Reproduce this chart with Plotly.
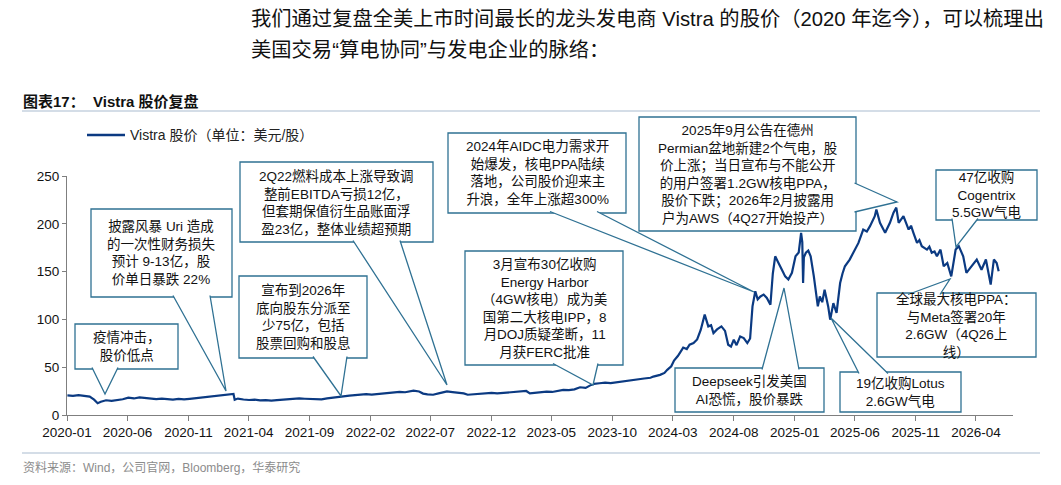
import plotly.graph_objects as go

# Vistra 股价（美元/股），按图读取的近似值
dates = [
    "2020-01-02", "2020-01-16", "2020-01-30", "2020-02-13", "2020-02-27", "2020-03-09", "2020-03-18",
    "2020-03-26", "2020-04-08", "2020-04-22", "2020-05-06", "2020-05-20", "2020-06-03", "2020-06-17",
    "2020-07-01", "2020-07-15", "2020-07-29", "2020-08-12", "2020-08-26", "2020-09-09", "2020-09-23",
    "2020-10-07", "2020-10-21", "2020-11-04", "2020-11-18", "2020-12-02", "2020-12-16", "2020-12-30",
    "2021-01-13", "2021-01-27", "2021-02-10", "2021-02-22", "2021-02-25", "2021-03-05", "2021-03-19",
    "2021-04-02", "2021-04-16", "2021-04-30", "2021-05-14", "2021-05-28", "2021-06-11", "2021-06-25",
    "2021-07-09", "2021-07-23", "2021-08-06", "2021-08-20", "2021-09-03", "2021-09-17", "2021-10-01",
    "2021-10-15", "2021-10-29", "2021-11-12", "2021-11-26", "2021-12-10", "2021-12-24",
    "2022-01-07", "2022-01-21", "2022-02-04", "2022-02-18", "2022-03-04", "2022-03-18", "2022-04-01",
    "2022-04-15", "2022-04-29", "2022-05-13", "2022-05-20", "2022-06-03", "2022-06-13", "2022-06-24",
    "2022-07-08", "2022-07-22", "2022-08-05", "2022-08-12", "2022-08-26", "2022-09-09", "2022-09-23",
    "2022-10-03", "2022-10-21", "2022-11-04", "2022-11-18", "2022-12-02", "2022-12-16", "2022-12-30",
    "2023-01-13", "2023-01-27", "2023-02-10", "2023-02-27", "2023-03-08", "2023-03-22", "2023-04-05",
    "2023-04-19", "2023-05-03", "2023-05-17", "2023-05-31", "2023-06-14", "2023-06-28", "2023-07-12",
    "2023-07-26", "2023-08-09", "2023-08-16", "2023-08-30", "2023-09-13", "2023-09-27", "2023-10-11",
    "2023-10-25", "2023-11-08", "2023-11-22", "2023-12-06", "2023-12-20",
    "2024-01-05", "2024-01-12", "2024-01-29", "2024-02-09", "2024-02-16", "2024-02-26", "2024-03-04",
    "2024-03-14", "2024-03-27", "2024-04-05", "2024-04-12", "2024-04-22", "2024-05-01", "2024-05-10",
    "2024-05-20", "2024-05-24", "2024-05-29", "2024-06-05", "2024-06-11", "2024-06-20", "2024-07-01",
    "2024-07-10", "2024-07-18", "2024-07-25", "2024-08-01", "2024-08-08", "2024-08-17", "2024-08-26",
    "2024-09-04", "2024-09-11", "2024-09-17", "2024-09-24", "2024-09-30", "2024-10-07", "2024-10-15",
    "2024-10-23", "2024-11-01", "2024-11-07", "2024-11-13", "2024-11-20", "2024-11-26", "2024-12-02",
    "2024-12-08", "2024-12-16", "2024-12-25",
    "2025-01-03", "2025-01-11", "2025-01-17", "2025-01-20", "2025-01-22", "2025-01-24", "2025-01-29",
    "2025-02-04", "2025-02-10", "2025-02-18", "2025-02-24", "2025-02-28", "2025-03-05", "2025-03-11",
    "2025-03-17", "2025-03-26", "2025-03-31", "2025-04-08", "2025-04-16", "2025-04-25", "2025-05-01",
    "2025-05-07", "2025-05-19", "2025-06-01", "2025-06-10", "2025-06-22", "2025-07-01", "2025-07-09",
    "2025-07-21", "2025-07-25", "2025-08-03", "2025-08-16", "2025-08-28", "2025-09-06", "2025-09-13",
    "2025-09-19", "2025-09-25", "2025-10-01", "2025-10-14", "2025-10-20", "2025-10-26", "2025-11-04",
    "2025-11-10", "2025-11-16", "2025-11-29", "2025-12-05", "2025-12-11", "2025-12-18", "2025-12-24",
    "2026-01-02", "2026-01-10", "2026-01-19", "2026-01-29", "2026-02-04", "2026-02-09", "2026-02-17",
    "2026-02-28", "2026-03-08", "2026-03-20", "2026-04-03", "2026-04-15", "2026-04-26", "2026-05-08",
    "2026-05-16", "2026-05-23", "2026-05-28",
]
prices = [
    20.5, 20.0, 20.8, 20.3, 19.2, 16.0, 12.3,
    13.8, 15.4, 14.8, 15.7, 16.5, 18.2, 17.3,
    18.5, 17.6, 17.0, 16.6, 17.2, 16.5, 16.0,
    16.8, 16.3, 16.9, 17.6, 18.5, 19.2, 19.6,
    20.2, 20.6, 21.3, 22.0, 16.0, 17.2, 16.2,
    15.7, 16.1, 15.3, 15.6, 15.0, 15.5, 16.0,
    16.5, 16.9, 17.3, 17.0, 16.7, 16.2, 16.3,
    17.4, 18.3, 19.0, 19.6, 20.2, 20.8,
    21.6, 21.8, 21.3, 21.9, 22.4, 22.8, 23.6,
    24.2, 23.8, 24.7, 25.4, 24.6, 22.4, 21.6,
    21.2, 22.6, 23.9, 24.6, 24.0, 23.5, 22.6,
    21.2, 21.8, 22.3, 22.8, 23.1, 22.6, 23.0,
    23.5, 24.1, 24.6, 25.1, 22.6, 23.2, 23.9,
    24.5, 24.1, 24.8, 26.2, 26.0, 26.8, 29.0,
    28.4, 31.5, 32.6, 33.2, 33.9, 33.4, 34.3,
    35.0, 35.6, 36.4, 37.2, 38.2,
    39.0, 40.2, 42.0, 44.0, 47.2, 51.0, 57.0,
    62.0, 70.5, 69.0, 73.5, 75.2, 79.0, 89.0,
    105.0, 99.0, 92.7, 94.0, 85.7, 89.5, 92.7,
    88.0, 73.5, 71.5, 78.7, 73.0, 82.2, 80.5,
    75.2, 80.0, 113.6, 129.4, 121.0, 124.0, 126.0,
    122.4, 115.4, 148.0, 166.0, 160.0, 155.6, 150.0,
    145.0, 141.7, 148.7,
    166.0, 170.0, 190.6, 181.0, 138.0, 165.0, 169.7,
    172.0, 166.0, 145.0, 128.0, 113.6, 124.0, 118.0,
    131.0, 113.6, 99.7, 117.0, 106.7, 138.0, 148.0,
    155.6, 162.6, 173.0, 180.0, 194.0, 192.0, 197.5,
    208.0, 215.0, 201.0, 190.6, 201.0, 211.7, 217.0,
    201.0, 205.0, 208.0, 194.0, 198.0, 190.6, 180.0,
    183.0, 176.6, 173.0, 176.0, 169.7, 171.0, 166.0,
    173.0, 155.6, 159.0, 145.0, 162.0, 173.0, 176.6,
    166.0, 148.7, 155.6, 162.6, 152.0, 162.6, 136.4,
    162.6, 159.0, 150.4,
]

tick_labels = ["2020-01", "2020-06", "2020-11", "2021-04", "2021-09", "2022-02", "2022-07", "2022-12",
               "2023-05", "2023-10", "2024-03", "2024-08", "2025-01", "2025-06", "2025-11", "2026-04"]
y_ticks = [0, 50, 100, 150, 200, 250]
series_name = "Vistra 股价（单位：美元/股）"

# 注释框：文字、框(x0, x1, y0, y1)、箭头底边两点、箭头尖 —— 屏幕像素位置
callouts = [
    ("疫情冲击，<br>股价低点", (75, 178, 324, 369), ((92, 369), (118, 369)), (105, 394)),
    ("披露风暴 Uri 造成<br>的一次性财务损失<br>预计 9-13亿，股<br>价单日暴跌 22%",
     (91, 232, 209, 297), ((173, 297), (210, 297)), (226, 391)),
    ("2Q22燃料成本上涨导致调<br>整前EBITDA亏损12亿，<br>但套期保值衍生品账面浮<br>盈23亿，整体业绩超预期",
     (240, 433, 162, 242), ((353, 242), (400, 242)), (447, 385)),
    ("宣布到2026年<br>底向股东分派至<br>少75亿，包括<br>股票回购和股息",
     (239, 367, 276, 358), ((313, 358), (347, 358)), (341, 396)),
    ("2024年AIDC电力需求开<br>始爆发，核电PPA陆续<br>落地，公司股价迎来主<br>升浪，全年上涨超300%",
     (448, 626, 133, 213), ((550, 213), (597, 213)), (754, 292)),
    ("2025年9月公告在德州<br>Permian盆地新建2个气电，股<br>价上涨；当日宣布与不能公开<br>的用户签署1.2GW核电PPA，<br>股价下跌；2026年2月披露用<br>户为AWS（4Q27开始投产）",
     (639, 856, 117, 231), ((856, 183), (856, 212)), (897, 202)),
    ("3月宣布30亿收购<br>Energy Harbor<br>（4GW核电）成为美<br>国第二大核电IPP，8<br>月DOJ质疑垄断，11<br>月获FERC批准",
     (465, 623, 251, 365), ((553, 365), (598, 365)), (593, 385)),
    ("Deepseek引发美国<br>AI恐慌，股价暴跌", (675, 824, 368, 412), ((762, 368), (799, 368)), (784, 288)),
    ("19亿收购Lotus<br>2.6GW气电", (840, 961, 372, 412), ((859, 372), (888, 372)), (831, 318)),
    ("47亿收购<br>Cogentrix<br>5.5GW气电", (936, 1037, 170, 220), ((952, 220), (978, 220)), (956, 247)),
    ("全球最大核电PPA：<br>与Meta签署20年<br>2.6GW（4Q26上<br>线）", (877, 1036, 293, 357), ((908, 293), (940, 293)), (950, 279)),
]

# 页面有 8px 的默认边距，图本身缩小 8px 使其正好落在窗口内
PAGE_OFF = 8
W, H = 1061 - PAGE_OFF, 485 - PAGE_OFF
PLOT_X0, PLOT_X1, PLOT_Y0, PLOT_Y1 = 67, 1013, 176, 415  # 屏幕坐标
ML, MT = PLOT_X0 - PAGE_OFF, PLOT_Y0 - PAGE_OFF
MR, MB = W - (PLOT_X1 - PAGE_OFF), H - (PLOT_Y1 - PAGE_OFF)
LATIN_CJK = "Liberation Sans, Arial, Noto Sans CJK SC, sans-serif"
BOX_COLOR = "#2F7193"
LINE_COLOR = "#0B3A82"


def px(x):
    return (x - PLOT_X0) / (PLOT_X1 - PLOT_X0)


def py(y):
    return (PLOT_Y1 - y) / (PLOT_Y1 - PLOT_Y0)


fig = go.Figure()
fig.add_trace(go.Scatter(
    x=dates, y=prices, mode="lines", name=series_name,
    line=dict(color=LINE_COLOR, width=2.2), showlegend=False,
))

shapes = []
annotations = []
for text, box, base, tip in callouts:
    x0, x1, y0, y1 = box
    shapes.append(dict(type="rect", xref="paper", yref="paper", layer="above",
                       x0=px(x0), x1=px(x1), y0=py(y1), y1=py(y0),
                       fillcolor="white", line=dict(color=BOX_COLOR, width=1.3)))
    (bx1, by1), (bx2, by2) = base
    # 把底边略微推进框内，盖住边框
    if by1 == y1:
        by1 = by2 = y1 - 1.5
    elif by1 == y0:
        by1 = by2 = y0 + 1.5
    else:
        bx1 = bx2 = x1 - 1.5
    path = "M {:.5f},{:.5f} L {:.5f},{:.5f} L {:.5f},{:.5f}".format(
        px(bx1), py(by1), px(tip[0]), py(tip[1]), px(bx2), py(by2))
    shapes.append(dict(type="path", xref="paper", yref="paper", layer="above", path=path,
                       fillcolor="white", line=dict(color=BOX_COLOR, width=1.3)))
    annotations.append(dict(text=text, xref="paper", yref="paper", showarrow=False,
                            x=px((x0 + x1) / 2), y=py((y0 + y1) / 2),
                            xanchor="center", yanchor="middle", align="center",
                            font=dict(size=13.5, color="#111111", family=LATIN_CJK)))

# 页面文字、图例和分隔线
para_font = dict(size=20.3, color="#111111", family=LATIN_CJK)
page_text = [
    dict(text="我们通过复盘全美上市时间最长的龙头发电商 Vistra 的股价（2020 年迄今），可以梳理出",
         x=px(249), y=py(19), font=para_font),
    dict(text="美国交易“算电协同”与发电企业的脉络：", x=px(249), y=py(50), font=para_font),
    dict(text="<b>图表17：  Vistra 股价复盘</b>", x=px(21), y=py(101),
         font=dict(size=15, color="#111111", family=LATIN_CJK)),
    dict(text=series_name, x=px(128), y=py(135),
         font=dict(size=14, color="#222222", family=LATIN_CJK)),
    dict(text="资料来源：Wind，公司官网，Bloomberg，华泰研究", x=px(21), y=py(467),
         font=dict(size=12, color="#8C8C8C", family=LATIN_CJK)),
]
for a in page_text:
    a.update(xref="paper", yref="paper", showarrow=False, xanchor="left", yanchor="middle")
annotations += page_text

shapes.append(dict(type="line", xref="paper", yref="paper", x0=px(87), x1=px(125),
                   y0=py(135), y1=py(135), line=dict(color=LINE_COLOR, width=2.6)))
for yline in (111, 453):
    shapes.append(dict(type="line", xref="paper", yref="paper", x0=px(22), x1=px(1040),
                       y0=py(yline), y1=py(yline), line=dict(color="#A9BCD0", width=1.2)))

fig.update_layout(
    width=W, height=H,
    margin=dict(l=ML, r=MR, t=MT, b=MB, autoexpand=False),
    paper_bgcolor="white", plot_bgcolor="white",
    font=dict(family=LATIN_CJK, size=13, color="#111111"),
    showlegend=False,
    shapes=shapes,
    annotations=annotations,
    xaxis=dict(
        type="date", range=["2020-01-01", "2026-07-03"],
        tickvals=[t + "-01" for t in tick_labels], ticktext=tick_labels,
        tickfont=dict(size=13.5, color="#111111"),
        showgrid=False, zeroline=False,
        showline=True, linecolor="#7F7F7F", linewidth=1.2,
        ticks="outside", ticklen=5, tickcolor="#7F7F7F",
    ),
    yaxis=dict(
        range=[0, 250], tickvals=y_ticks,
        tickfont=dict(size=13.5, color="#111111"),
        showgrid=False, zeroline=False,
        showline=True, linecolor="#7F7F7F", linewidth=1.2,
        ticks="outside", ticklen=4, tickcolor="#7F7F7F",
    ),
)

fig.write_html("out.html")
